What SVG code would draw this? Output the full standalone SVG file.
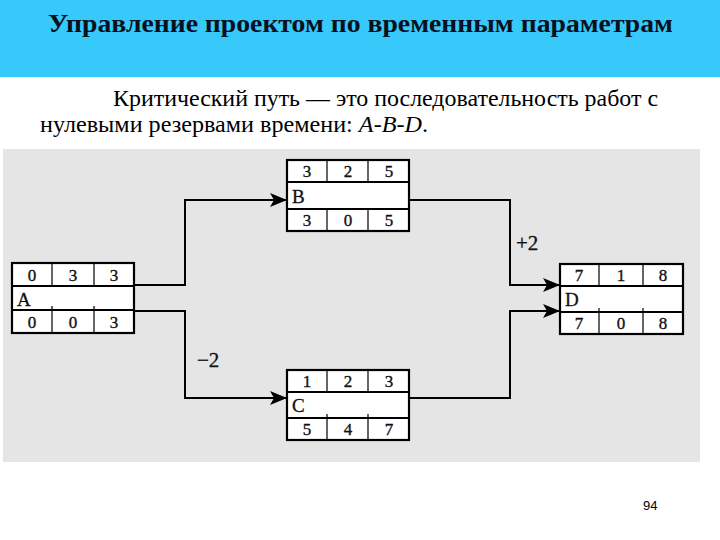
<svg xmlns="http://www.w3.org/2000/svg" width="720" height="540" viewBox="0 0 720 540">
<defs>
<style>
.title{font-family:"Liberation Serif",serif;font-weight:bold;font-size:26px;fill:#0b1020}
.body{font-family:"Liberation Serif",serif;font-size:24px;fill:#000}
.box{fill:#fff;stroke:#000;stroke-width:2.2}
.hl{stroke:#000;stroke-width:1.8}
.vl{stroke:#000;stroke-width:1.2}
.num{font-family:"Liberation Serif",serif;font-size:17px;fill:#111;stroke:#111;stroke-width:0.35;text-anchor:middle}
.lbl{font-family:"Liberation Serif",serif;font-size:19px;fill:#111;stroke:#111;stroke-width:0.3}
.dl{font-family:"Liberation Serif",serif;font-size:21px;fill:#111;stroke:#111;stroke-width:0.3}
.conn{fill:none;stroke:#000;stroke-width:2}
.pg{font-family:"Liberation Sans",Arial,sans-serif;font-size:13px;fill:#000}
</style>
<marker id="arr" markerUnits="userSpaceOnUse" markerWidth="18" markerHeight="14" refX="17" refY="7" orient="auto">
<path d="M0,0 L17,7 L0,14 L4,7 Z" fill="#000"/>
</marker>
</defs>
<rect x="0" y="0" width="720" height="540" fill="#fff"/>
<rect x="0" y="0" width="720" height="77" fill="#36c9f9"/>
<text class="title" x="48" y="32" textLength="625" lengthAdjust="spacingAndGlyphs">Управление проектом по временным параметрам</text>
<text class="body" x="113" y="106" textLength="545" lengthAdjust="spacingAndGlyphs">Критический путь — это последовательность работ с</text>
<text class="body" x="40" y="132" textLength="388" lengthAdjust="spacingAndGlyphs">нулевыми резервами времени: <tspan font-style="italic">A</tspan>-<tspan font-style="italic">B</tspan>-<tspan font-style="italic">D</tspan>.</text>
<rect x="3" y="149" width="697" height="313" fill="#e5e5e5"/>

<g id="connectors">
<path class="conn" d="M134,285 H185 V200 H287" marker-end="url(#arr)"/>
<path class="conn" d="M134,311 H185 V398 H287" marker-end="url(#arr)"/>
<path class="conn" d="M409,200 H510 V285 H560" marker-end="url(#arr)"/>
<path class="conn" d="M409,398 H510 V311 H560" marker-end="url(#arr)"/>
<text class="dl" x="516" y="250">+2</text>
<text class="dl" x="197" y="367">−2</text>
</g>

<g id="nodeA">
<rect class="box" x="12" y="263" width="122" height="70"/>
<line class="hl" x1="12" y1="286" x2="134" y2="286"/>
<line class="hl" x1="12" y1="310" x2="134" y2="310"/>
<line class="vl" x1="52" y1="263" x2="52" y2="286"/>
<line class="vl" x1="94" y1="263" x2="94" y2="286"/>
<line class="vl" x1="52" y1="306" x2="52" y2="333"/>
<line class="vl" x1="94" y1="306" x2="94" y2="333"/>
<text class="num" x="32" y="281">0</text><text class="num" x="73" y="281">3</text><text class="num" x="114" y="281">3</text>
<text class="lbl" x="17" y="306">A</text>
<text class="num" x="32" y="328">0</text><text class="num" x="73" y="328">0</text><text class="num" x="114" y="328">3</text>
</g>

<g id="nodeB">
<rect class="box" x="287" y="160" width="122" height="71"/>
<line class="hl" x1="287" y1="182" x2="409" y2="182"/>
<line class="hl" x1="287" y1="209" x2="409" y2="209"/>
<line class="vl" x1="327" y1="160" x2="327" y2="182"/>
<line class="vl" x1="368" y1="160" x2="368" y2="182"/>
<line class="vl" x1="327" y1="209" x2="327" y2="231"/>
<line class="vl" x1="368" y1="209" x2="368" y2="231"/>
<text class="num" x="307" y="177">3</text><text class="num" x="348" y="177">2</text><text class="num" x="389" y="177">5</text>
<text class="lbl" x="292" y="203">B</text>
<text class="num" x="307" y="226">3</text><text class="num" x="348" y="226">0</text><text class="num" x="389" y="226">5</text>
</g>

<g id="nodeC">
<rect class="box" x="287" y="370" width="122" height="70"/>
<line class="hl" x1="287" y1="392" x2="409" y2="392"/>
<line class="hl" x1="287" y1="418" x2="409" y2="418"/>
<line class="vl" x1="327" y1="370" x2="327" y2="392"/>
<line class="vl" x1="368" y1="370" x2="368" y2="392"/>
<line class="vl" x1="327" y1="414" x2="327" y2="440"/>
<line class="vl" x1="368" y1="414" x2="368" y2="440"/>
<text class="num" x="307" y="387">1</text><text class="num" x="348" y="387">2</text><text class="num" x="389" y="387">3</text>
<text class="lbl" x="292" y="412">C</text>
<text class="num" x="307" y="435">5</text><text class="num" x="348" y="435">4</text><text class="num" x="389" y="435">7</text>
</g>

<g id="nodeD">
<rect class="box" x="560" y="264" width="123" height="70"/>
<line class="hl" x1="560" y1="286" x2="683" y2="286"/>
<line class="hl" x1="560" y1="312" x2="683" y2="312"/>
<line class="vl" x1="599" y1="264" x2="599" y2="286"/>
<line class="vl" x1="643" y1="264" x2="643" y2="286"/>
<line class="vl" x1="599" y1="308" x2="599" y2="334"/>
<line class="vl" x1="643" y1="308" x2="643" y2="334"/>
<text class="num" x="579" y="281">7</text><text class="num" x="621" y="281">1</text><text class="num" x="663" y="281">8</text>
<text class="lbl" x="565" y="306">D</text>
<text class="num" x="579" y="329">7</text><text class="num" x="621" y="329">0</text><text class="num" x="663" y="329">8</text>
</g>

<text class="pg" x="643" y="510">94</text>
</svg>
